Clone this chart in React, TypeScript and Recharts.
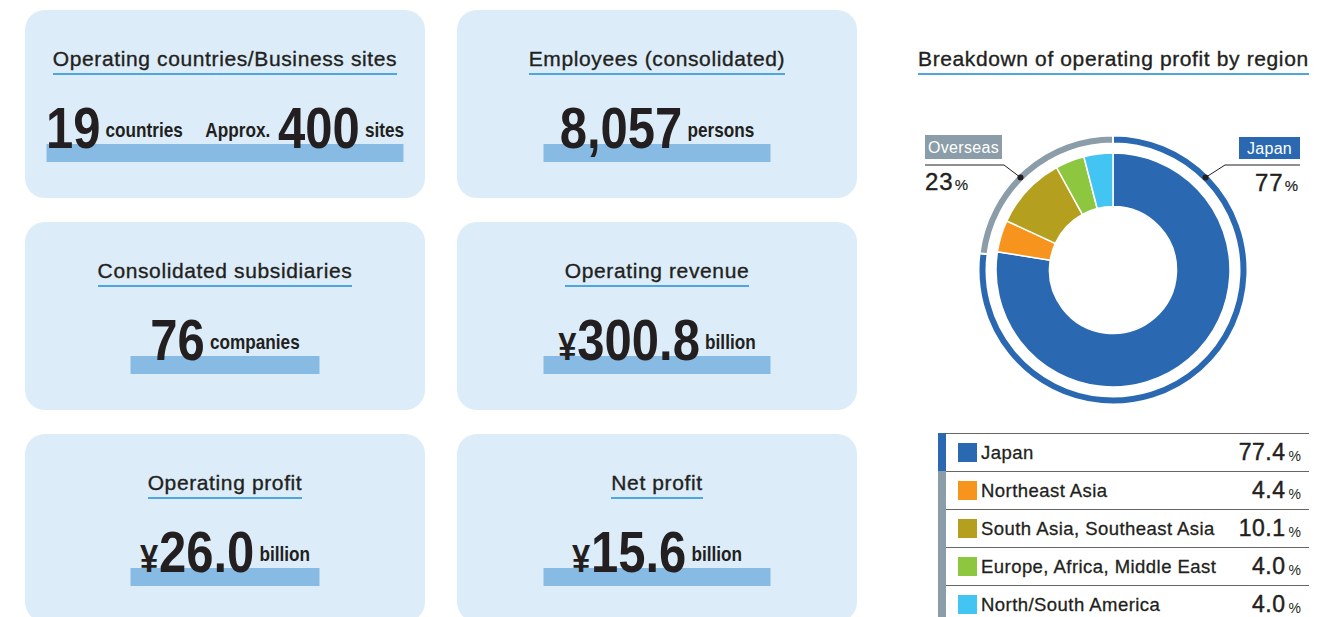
import { PieChart, Pie, Cell } from 'recharts';

const cardTitles = [
  'Operating countries/Business sites',
  'Employees (consolidated)',
  'Consolidated subsidiaries',
  'Operating revenue',
  'Operating profit',
  'Net profit',
];

type Part = { t: string; k: 'num' | 'unit' | 'yen' };
const cardFigures: Part[][] = [
  [{ t: '19', k: 'num' }, { t: 'countries', k: 'unit' }, { t: 'Approx.', k: 'unit' }, { t: '400', k: 'num' }, { t: 'sites', k: 'unit' }],
  [{ t: '8,057', k: 'num' }, { t: 'persons', k: 'unit' }],
  [{ t: '76', k: 'num' }, { t: 'companies', k: 'unit' }],
  [{ t: '¥', k: 'yen' }, { t: '300.8', k: 'num' }, { t: 'billion', k: 'unit' }],
  [{ t: '¥', k: 'yen' }, { t: '26.0', k: 'num' }, { t: 'billion', k: 'unit' }],
  [{ t: '¥', k: 'yen' }, { t: '15.6', k: 'num' }, { t: 'billion', k: 'unit' }],
];

const regionNames = ['Japan', 'Northeast Asia', 'South Asia, Southeast Asia', 'Europe, Africa, Middle East', 'North/South America'];
const regionShares = [77.4, 4.4, 10.1, 4.0, 4.0];
const regionColors = ['#2a69b2', '#f7941e', '#b59f1e', '#8dc63f', '#42c5f2'];

const ringNames = ['Japan', 'Overseas'];
const ringShares = [77, 23];
const ringColors = ['#2a69b2', '#8b9da8'];

const FONT = '"Liberation Sans", Arial, sans-serif';
const INK = '#231f20';
const CARD_BG = '#dcedf9';
const BAR = '#88bbe3';
const LINE = '#4ea6dd';

const barWidths = [357, 227, 189, 227, 189, 227];

function Title({ text, style }: { text: string; style: React.CSSProperties }) {
  return (
    <div style={{ position: 'absolute', ...style }}>
      <span
        style={{
          display: 'inline-block',
          fontSize: 21,
          lineHeight: '21px',
          letterSpacing: 0.62,
          color: INK,
          paddingBottom: 4,
          borderBottom: `2px solid ${LINE}`,
          WebkitTextStroke: '0.35px ' + INK,
        }}
      >
        {text}
      </span>
    </div>
  );
}

function Figure({ parts, barW }: { parts: Part[]; barW: number }) {
  const cx = 200;
  const gap = (prev: Part | undefined, cur: Part) => {
    if (!prev) return 0;
    if (prev.k === 'yen') return 1;
    if (prev.k === 'num' && cur.k === 'unit') return 6;
    if (prev.k === 'unit' && cur.k === 'unit') return 26;
    return 9;
  };
  let lift = 0;
  return (
    <svg width={400} height={188} style={{ position: 'absolute', left: 0, top: 0 }}>
      <rect x={cx - barW / 2} y={134} width={barW} height={18} fill={BAR} />
      <text
        x={cx}
        y={138}
        textAnchor="middle"
        fontFamily={FONT}
        fontWeight={700}
        fill={INK}
        transform={`translate(${cx},0) scale(0.86,1) translate(${-cx},0)`}
      >
        {parts.map((p, i) => {
          const size = p.k === 'num' ? 57 : p.k === 'yen' ? 38 : 20;
          const target = p.k === 'unit' ? -11 : 0;
          const dy = target - lift;
          lift = target;
          return (
            <tspan key={i} dx={gap(parts[i - 1], p)} dy={dy} fontSize={size}>
              {p.t}
            </tspan>
          );
        })}
      </text>
    </svg>
  );
}

export default function App() {
  const pieData = regionNames.map((name, i) => ({ name, value: regionShares[i] }));
  const ringData = ringNames.map((name, i) => ({ name, value: ringShares[i] }));

  return (
    <div
      style={{
        position: 'absolute',
        left: 0,
        top: 0,
        width: 1326,
        height: 617,
        overflow: 'hidden',
        background: '#fff',
        fontFamily: FONT,
      }}
    >
      {cardTitles.map((title, i) => {
        const col = i % 2;
        const row = Math.floor(i / 2);
        return (
          <div
            key={title}
            style={{
              position: 'absolute',
              left: 25 + col * 432,
              top: 10 + row * 212,
              width: 400,
              height: 188,
              borderRadius: 20,
              background: CARD_BG,
            }}
          >
            <Figure parts={cardFigures[i]} barW={barWidths[i]} />
            <Title text={title} style={{ left: 0, top: 38, width: 400, textAlign: 'center' }} />
          </div>
        );
      })}

      <Title text="Breakdown of operating profit by region" style={{ left: 918, top: 48 }} />

      <div style={{ position: 'absolute', left: 913, top: 120 }}>
        <PieChart width={400} height={300} margin={{ top: 0, right: 0, bottom: 0, left: 0 }}>
          <Pie
            data={ringData}
            dataKey="value"
            cx={200}
            cy={150}
            innerRadius={126.5}
            outerRadius={134.5}
            startAngle={90}
            endAngle={-270}
            stroke="#fff"
            strokeWidth={2}
            isAnimationActive={false}
          >
            {ringData.map((d, i) => (
              <Cell key={d.name} fill={ringColors[i]} />
            ))}
          </Pie>
          <Pie
            data={pieData}
            dataKey="value"
            cx={200}
            cy={150}
            innerRadius={63.5}
            outerRadius={117}
            startAngle={90}
            endAngle={-270}
            stroke="#fff"
            strokeWidth={1.5}
            isAnimationActive={false}
          >
            {pieData.map((d, i) => (
              <Cell key={d.name} fill={regionColors[i]} />
            ))}
          </Pie>
        </PieChart>
      </div>

      <svg width={1326} height={617} style={{ position: 'absolute', left: 0, top: 0, pointerEvents: 'none' }}>
        <rect x={925} y={135} width={77} height={24} fill={ringColors[1]} />
        <text x={963.5} y={153} textAnchor="middle" fontFamily={FONT} fontSize={16} letterSpacing={0.3} fill="#fff">
          {ringNames[1]}
        </text>
        <polyline points="925,165 1004,165 1020.5,177.5" fill="none" stroke={INK} strokeWidth={1} />
        <circle cx={1020.5} cy={177.5} r={3} fill={INK} />
        <text x={925} y={190} fontFamily={FONT} fontSize={24} letterSpacing={1} fill={INK} stroke={INK} strokeWidth={0.4}>
          {ringShares[1]}
          <tspan fontSize={15} dx={1} strokeWidth={0.2}>%</tspan>
        </text>

        <rect x={1239} y={137} width={61} height={22} fill={ringColors[0]} />
        <text x={1269.5} y={154} textAnchor="middle" fontFamily={FONT} fontSize={16} letterSpacing={0.3} fill="#fff">
          {ringNames[0]}
        </text>
        <polyline points="1300,165 1225,165 1205.5,177.5" fill="none" stroke={INK} strokeWidth={1} />
        <circle cx={1205.5} cy={177.5} r={3} fill={INK} />
        <text x={1299} y={191} textAnchor="end" fontFamily={FONT} fontSize={24} letterSpacing={1} fill={INK} stroke={INK} strokeWidth={0.4}>
          {ringShares[0]}
          <tspan fontSize={15} dx={1} strokeWidth={0.2}>%</tspan>
        </text>
      </svg>

      <div style={{ position: 'absolute', left: 938, top: 433, width: 371 }}>
        {regionNames.map((name, i) => (
          <div
            key={name}
            style={{
              display: 'flex',
              alignItems: 'center',
              height: 38,
              boxSizing: 'border-box',
              borderTop: '1px solid #666',
              position: 'relative',
            }}
          >
            <div
              style={{
                position: 'absolute',
                left: 0,
                top: -1,
                width: 8,
                height: 39,
                background: i === 0 ? ringColors[0] : ringColors[1],
              }}
            />
            <div style={{ width: 19, height: 19, marginLeft: 20, background: regionColors[i] }} />
            <span
              style={{
                marginLeft: 4,
                fontSize: 18.5,
                letterSpacing: 0.45,
                color: INK,
                WebkitTextStroke: '0.3px ' + INK,
              }}
            >
              {name}
            </span>
            <span
              style={{
                marginLeft: 'auto',
                fontSize: 23,
                letterSpacing: 0.5,
                color: INK,
                WebkitTextStroke: '0.45px ' + INK,
              }}
            >
              {regionShares[i].toFixed(1)}
            </span>
            <span style={{ marginLeft: 3, marginRight: 8, fontSize: 14, color: INK, paddingTop: 6 }}>%</span>
          </div>
        ))}
      </div>
    </div>
  );
}
